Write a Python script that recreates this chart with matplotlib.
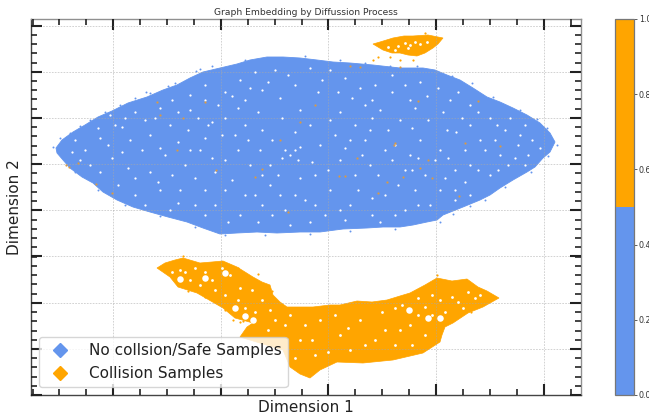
import matplotlib
matplotlib.use("Agg")
import matplotlib.pyplot as plt
from matplotlib.colors import ListedColormap, Normalize
from matplotlib.cm import ScalarMappable
from matplotlib.lines import Line2D
from matplotlib.ticker import MultipleLocator, FixedLocator

BLUE = "#6495ed"
ORANGE = "#ffa500"

title = "Graph Embedding by Diffussion Process"
xlabel = "Dimension 1"
ylabel = "Dimension 2"
legend_labels = ["No collsion/Safe Samples", "Collision Samples"]

x_major = [113, 220.5, 328, 436, 543.5]
y_major = [25.5, 72, 118, 164, 210, 256, 303, 349, 395]

safe_outline = [(56,148),(62,140),(73,132),(85,125),(98,117),(112,111),(128,103),(147,97),(163,90),(177,85),
    (190,78),(203,72),(220,68),(237,64),(250,60),(267,57),(283,57),(300,58),(317,60),(333,62),(350,63),(373,65),
    (400,68),(423,68),(435,70),(447,75),(460,80),(473,88),(487,97),(500,102),(513,108),(527,115),(540,123),
    (550,133),(555,142),(550,152),(543,158),(535,167),(527,172),(513,180),(500,188),(490,195),(480,200),(463,207),
    (443,215),(437,220),(427,222),(413,225),(400,227),(383,227),(367,228),(343,229),(320,232),(300,232),(277,233),
    (257,232),(237,233),(220,234),(203,228),(187,222),(168,217),(150,212),(133,207),(117,200),(103,192),(93,183),
    (82,177),(70,168),(63,160),(57,153)]
safe_edge = [(146,92),(150,93),(196,71),(200,69),(212,66),(245,60),(70,133),(90,120),(120,105),(175,83),(305,56),
    (340,60),(365,63),(390,66),(417,66),(452,76),(472,83),(493,97),(520,110),(537,119),(547,128),(557,145),(548,156),
    (531,172),(505,187),(485,200),(470,206),(453,214),(440,222),(395,229),(350,231),(310,234),(265,235),(225,235),
    (195,227),(160,216),(125,205),(98,190),(75,172),(53,147),(60,138),(80,126),(105,112),(135,98),(168,86)]
collision_top_outline = [(373,44),(380,42),(393,38),(404,36),(413,36),(428,35),(443,38),(438,44),(433,48),(425,53),
    (417,56),(408,55),(400,53),(392,53),(383,50)]
collision_low_outline = [(157,268),(165,263),(175,260),(183,258),(200,263),(212,262),(223,261),(237,267),(245,272),
    (253,277),(262,282),(270,285),(273,295),(280,302),(287,307),(313,307),(330,305),(340,305),(357,301),(372,302),
    (387,300),(400,296),(410,293),(425,285),(437,278),(452,281),(467,279),(478,287),(487,291),(499,298),(483,307),
    (468,313),(453,323),(445,327),(442,335),(440,342),(423,353),(393,360),(363,363),(337,362),(320,370),(310,378),
    (300,374),(290,367),(283,350),(240,337),(247,327),(253,323),(235,318),(223,308),(197,293),(178,287),(170,277)]

safe_gaps = [(110,115),(125,118),(98,128),(122,127),(145,120),(160,108),(172,100),(190,95),(205,85),(225,92),
    (240,80),(255,72),(275,70),(295,85),(330,70),(345,78),(360,88),(375,85),(392,75),(410,100),(427,96),(415,108),
    (450,100),(470,105),(490,118),(447,130),(456,132),(505,130),(520,135),(500,155),(532,140),(515,158),(480,140),
    (440,150),(420,140),(400,120),(380,110),(365,105),(340,112),(318,92),(300,110),(282,118),(262,130),(245,125),
    (225,118),(212,122),(190,110),(170,125),(150,135),(130,140),(108,145),(85,150),(75,140),(90,165),(112,158),
    (128,168),(118,185),(150,172),(165,155),(185,165),(200,150),(215,172),(232,180),(250,165),(225,160),(285,150),
    (290,155),(295,150),(282,158),(298,160),(300,147),(320,145),(340,160),(355,175),(370,165),(385,150),(405,170),
    (425,175),(440,190),(455,200),(470,195),(490,175),(508,165),(455,170),(430,205),(405,210),(385,195),(350,205),
    (325,215),(305,200),(285,210),(262,205),(240,215),(215,205),(195,205),(178,203),(180,190),(205,190),(270,185),
    (300,178),(330,190),(345,220),(372,215),(415,190),(435,160),(470,165),(260,150),(245,100),(262,90),(280,98),
    (205,100),(208,125),(330,120),(355,125),(370,130),(395,145),(410,155),(470,125),(485,150),(525,165),(160,190),
    (135,195),(145,205),(255,195),(290,225),(380,222),
    (115,125),(135,112),(155,118),(178,112),(198,118),(218,105),(232,96),(250,88),(268,82),(288,75),(310,68),(322,80),
    (338,92),(352,98),(372,100),(392,92),(405,85),(420,82),(438,88),(458,92),(478,112),(497,125),(510,118),(525,125),
    (540,148),(528,155),(518,145),(495,140),(462,118),(443,112),(428,120),(412,128),(388,130),(372,118),(350,140),
    (335,135),(310,125),(295,132),(272,140),(258,112),(238,108),(222,135),(205,138),(188,130),(178,142),(160,148),
    (142,150),(122,152),(100,138),(72,152),(80,160),(100,172),(135,178),(158,182),(172,175),(195,178),(212,158),
    (238,150),(248,140),(270,165),(278,175),(312,162),(328,170),(345,148),(362,155),(378,175),(392,160),(418,158),
    (448,158),(465,150),(478,170),(498,170),(465,182),(445,178),(418,205),(398,185),(372,198),(358,190),(340,210),
    (315,205),(295,195),(280,195),(262,175),(245,195),(225,190),(228,222),(205,215),(170,210),(258,222),(310,222),
    (395,215),(412,170),(272,215),(455,190),(190,150),(235,135),(315,175),(365,140)]
stray_collision = [(66,165),(69,167),(78,163),(96,184),(112,193),(157,102),(205,102),(160,115),(177,150),(183,118),
    (216,170),(255,177),(262,169),(288,212),(387,182),(395,143),(394,145),(418,101),(478,101),(357,158),(378,193),
    (339,176),(345,176),(403,177),(420,168),(432,178),(459,196),(465,143),(500,146),(360,67),(400,67),(350,66),
    (428,160),(280,140),(300,122),(315,105)]
collision_gaps = [(405,43),(410,45),(415,42),(408,48),(398,46),(388,47),(420,44),(395,50),(427,42),
    (172,272),(180,270),(195,268),(205,272),(212,280),(190,280),(222,268),(230,275),(225,295),(238,300),(245,308),
    (252,290),(262,300),(270,310),(255,312),(290,315),(305,325),(320,320),(340,335),(360,320),(375,340),(400,330),
    (412,345),(425,335),(418,315),(402,305),(425,307),(440,300),(452,297),(468,292),(445,312),(463,308),(475,298),
    (300,340),(315,355),(295,358),(350,350),(215,290),(240,288),(260,275),(200,285),(185,272),(335,315),(348,328),
    (382,312),(395,345),(410,325),(432,295),(458,302),(480,295),(285,325),(275,320),(268,330),(312,340),(328,352),
    (365,345),(385,330),(418,298),(395,308),(432,315)]
collision_voids = [(245,316),(253,320),(180,279),(225,273),(440,318),(428,318),(409,310),(235,308),(205,278)]
collision_edge = [(183,256),(238,268),(258,274),(272,291),(262,318),(243,321),(437,275),(440,331),(471,312),(188,291),
    (205,297),(215,302),(373,60),(378,57),(413,60),(390,57),(400,60),(425,33),(225,310),(233,320),(240,322)]

fig = plt.figure(figsize=(6.49, 4.17), dpi=100)
ax = fig.add_axes([31/649, 1-395/417, 549.5/649, 376/417])
ax.set_xlim(31, 580.5)
ax.set_ylim(395, 19)

ax.fill(*zip(*safe_outline), color=BLUE, lw=0.6, zorder=2)
ax.scatter(*zip(*safe_edge), s=2, c=BLUE, lw=0, zorder=2)
ax.scatter(*zip(*safe_gaps), s=2.6, c="white", marker="o", lw=0, zorder=3)
ax.scatter(*zip(*stray_collision), s=2.5, c="#d99a45", lw=0, zorder=4)
ax.fill(*zip(*collision_top_outline), color=ORANGE, lw=0.5, zorder=2)
ax.fill(*zip(*collision_low_outline), color=ORANGE, lw=0.5, zorder=2)
ax.scatter(*zip(*collision_voids), s=22, c="white", lw=0, zorder=3)
ax.scatter(*zip(*collision_gaps), s=4, c="white", lw=0, zorder=3)
ax.scatter(*zip(*collision_edge), s=2.5, c=ORANGE, lw=0, zorder=4)

ax.xaxis.set_major_locator(FixedLocator(x_major))
ax.yaxis.set_major_locator(FixedLocator(y_major))
ax.xaxis.set_minor_locator(MultipleLocator(26.9, offset=5.6))
ax.yaxis.set_minor_locator(MultipleLocator(9.24, offset=7.1))
ax.tick_params(which="major", direction="in", length=8, width=1.5, top=True, right=True,
               bottom=True, left=True, labelbottom=False, labelleft=False, color="#222222")
ax.tick_params(which="minor", direction="in", length=4.5, width=1.2, top=True, right=True,
               bottom=True, left=True, color="#222222")
ax.grid(True, which="major", ls=(0, (2, 1.5)), lw=0.6, color="#a8a8a8", alpha=0.6, zorder=5)
ax.set_axisbelow(False)
for s, c in zip(["top", "right", "left", "bottom"], ["#909090", "#909090", "#444444", "#444444"]):
    ax.spines[s].set_color(c)
    ax.spines[s].set_linewidth(1.0)

ax.set_title(title, fontsize=6.6, pad=3, color="#333333")
ax.text(0.5, -0.0, xlabel, fontsize=11, color="#222222", ha="center", va="center",
        transform=ax.transAxes + matplotlib.transforms.ScaledTranslation(0, -13/100, fig.dpi_scale_trans))
ax.set_ylabel(ylabel, fontsize=11, labelpad=3, color="#222222")

handles = [Line2D([], [], ls="", marker="D", ms=7.5, color=c) for c in (BLUE, ORANGE)]
leg = ax.legend(handles, legend_labels, loc="lower left", bbox_to_anchor=(39/649, 1-387/417),
                bbox_transform=fig.transFigure, fontsize=11, frameon=True, framealpha=0.8,
                borderpad=0.4, labelspacing=0.5, handletextpad=0.85, borderaxespad=0)
leg.set_zorder(10)
for t in leg.get_texts():
    t.set_color("#222222")

cax = fig.add_axes([615/649, 1-395/417, 19/649, 376/417])
cb = fig.colorbar(ScalarMappable(norm=Normalize(0, 1), cmap=ListedColormap([BLUE, ORANGE])), cax=cax)
cb.set_ticks([0, 0.2, 0.4, 0.6, 0.8, 1.0])
cb.ax.tick_params(labelsize=5.8, length=2, width=0.6, pad=1.5, color="#444444", labelcolor="#333333")
cb.outline.set_edgecolor("#777777")
cb.outline.set_linewidth(0.9)

fig.savefig("out.png", dpi=100)
